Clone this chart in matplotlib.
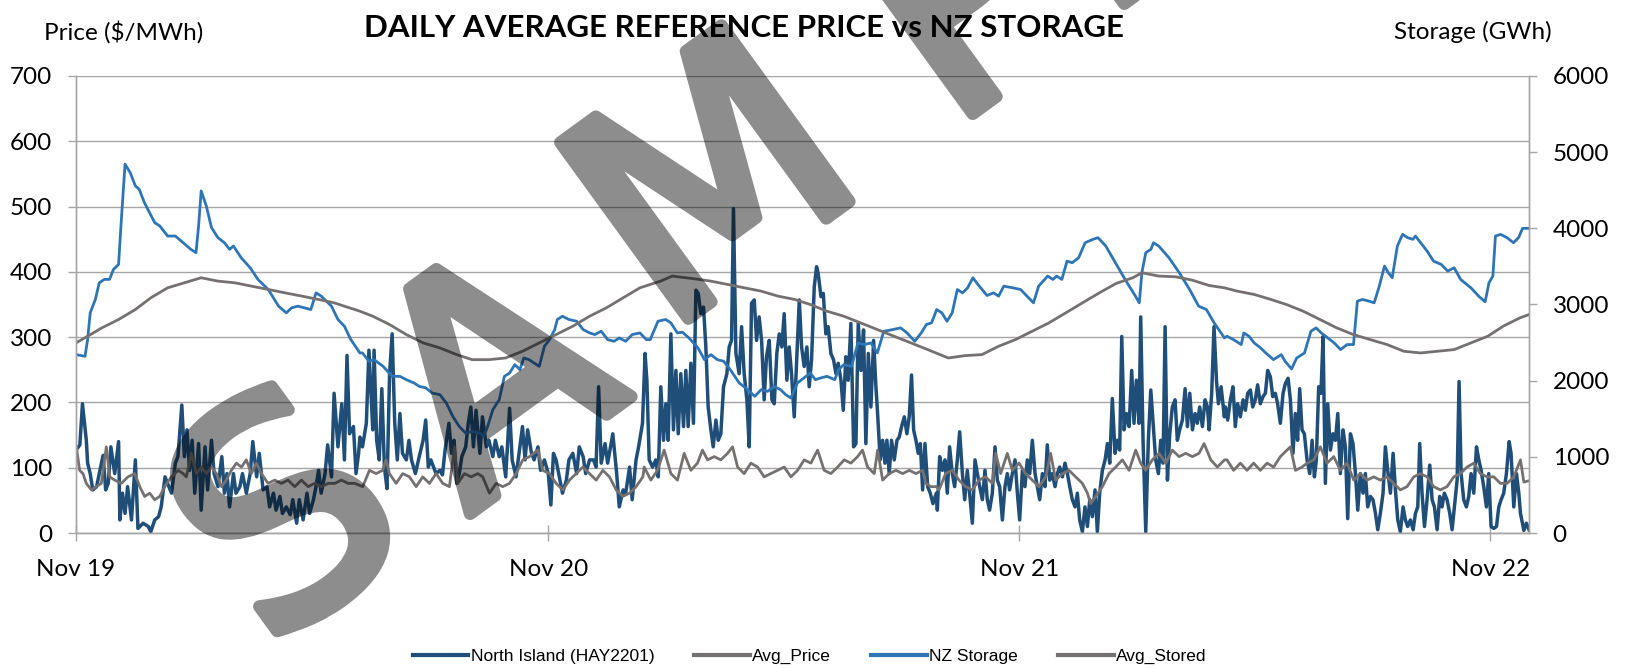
import numpy as np
import pandas as pd
import matplotlib
matplotlib.use('Agg')
import matplotlib.pyplot as plt
import matplotlib.dates as mdates
import matplotlib.patheffects as pe
from matplotlib.lines import Line2D

plt.rcParams['font.family'] = ['Lato', 'DejaVu Sans']

start = pd.Timestamp('2019-11-01')

# North Island (HAY2201) daily price, $/MWh -- x is days since 1 Nov 2019
price_day = [0, 3, 5, 8, 9, 11, 13, 16, 18, 21, 23, 25, 27, 30, 33, 34, 36, 38, 40, 43,
             46, 48, 52, 56, 58, 61, 64, 66, 69, 71, 74, 77, 79, 82, 84, 86, 88, 90, 92, 95,
             97, 100, 102, 105, 107, 110, 113, 115, 117, 119, 122, 124, 127, 129, 132, 135, 137, 140, 142, 145,
             148, 150, 153, 155, 158, 160, 163, 166, 168, 171, 173, 176, 179, 181, 184, 186, 188, 190, 193, 195,
             198, 200, 203, 206, 208, 210, 212, 215, 217, 219,
             220, 222, 225, 227, 230, 231, 233, 235, 237, 239, 241, 243, 245, 247, 249, 251, 253, 256, 258, 260,
             263, 266, 269, 271, 273, 275, 279, 282, 284, 286, 289, 291, 293, 295, 297, 299, 302, 304, 306, 308,
             310, 313, 315, 318, 320, 323, 325, 328, 330, 333, 336, 338, 341, 344, 346, 348, 350, 353, 355, 358,
             360, 363, 366, 368, 370, 372, 375, 377, 380, 382, 385, 388, 390, 393, 395, 398, 401, 403, 405, 407,
             410, 412, 416, 419, 421, 424, 426, 429, 431, 434, 436, 439, 441,
             442.4, 444.2, 446.8, 449.3, 451.2, 453.2, 455.3, 457.1, 458.9, 461.0, 463.0, 464.9, 466.7, 468.7,
             470.8, 472.6, 474.4, 476.5, 478.5, 480.4, 482.2, 484.2, 486.3, 488.1, 489.9, 492.0, 493.8, 495.9,
             497.7, 499.7, 501.8, 504.4, 506.2, 508.0, 509.5, 511.4, 513.9, 515.8, 517.8, 519.9, 521.7, 523.5,
             525.6, 527.4, 529.4, 531.3, 533.3, 535.1, 537.2, 539.3, 541.1, 543.1, 545.0, 547.0, 548.8, 550.9,
             552.7, 554.5, 556.6, 558.6, 560.5, 562.3, 564.3, 566.4, 568.2, 570.0, 572.1, 573.9, 575.2, 577.3,
             579.1, 581.1, 582.9, 585.0, 587.1, 588.9, 590.7, 592.8, 594.6, 596.6, 598.4, 600.5, 602.6, 604.4,
             606.2, 608.3, 610.3, 612.1, 614.0, 616.0, 618.1, 619.9, 621.2, 623.2, 625.1, 626.9, 628.4, 630.2,
             632.0, 634.1, 636.2, 638.0, 639.8, 641.9, 643.9, 645.7, 647.5, 649.1, 650.9, 652.7, 654.3, 656.1,
             657.9, 660.0, 662.0, 664.1, 666.7,
             667.5, 669.3, 671.4, 673.4, 675.2, 677.0, 679.1, 680.9, 683.0, 684.8, 686.9, 688.7, 690.7, 692.5,
             694.6, 696.7, 698.5, 700.3, 702.4, 704.4, 706.2, 708.0, 710.1, 712.2, 714.0, 715.8, 717.9, 719.9,
             721.7, 723.5, 725.6, 727.7, 729.5, 731.3, 733.4, 735.4, 737.2, 739.1, 741.1, 743.2, 745.0, 746.8,
             748.9, 750.9, 752.7, 754.6, 756.6, 758.7, 760.5, 762.3, 764.4, 766.4, 768.3, 770.1, 772.1, 774.2,
             776.0, 777.8, 779.9, 781.9, 783.8, 785.6, 787.6, 789.7, 791.5, 793.3, 795.4, 797.5, 799.3, 801.1,
             803.1, 805.2, 807.0, 808.8, 810.4, 812.2, 814.0, 816.1, 818.1, 819.9, 821.7, 823.8, 825.1, 826.9,
             829.0, 831.0, 832.9, 834.7, 836.7, 838.8, 840.6, 842.4, 844.0, 845.8, 847.6, 849.6, 851.7, 853.5,
             855.3, 857.4, 859.5, 861.3, 863.1, 865.2, 867.2, 869.0, 870.8, 872.9, 875.0, 876.8, 878.1, 880.1,
             881.9, 883.8, 885.3, 887.4, 889.9,
             890.7, 892.5, 894.6, 896.6, 898.4, 900.2, 902.3, 904.4, 906.2, 908.0, 910.1, 911.9, 913.9, 915.7,
             917.8, 919.9, 921.7, 923.5, 925.6, 927.4, 929.4, 931.2, 933.3, 935.4, 937.2, 939.3, 941.1, 943.1,
             944.9, 946.7, 948.3, 950.1, 951.9, 954.0, 956.1, 957.9, 959.7, 961.2, 963.0, 964.8, 966.4, 968.2,
             970.0, 972.1, 974.1, 976.0, 977.8, 979.8, 981.9, 983.7, 985.5, 987.6, 989.6, 991.5, 993.3, 995.3,
             997.4, 999.2, 1001.0, 1003.1, 1005.1, 1007.0, 1008.8, 1010.8, 1012.9, 1014.7, 1016.5, 1018.6,
             1020.7, 1022.5, 1024.3, 1026.3, 1028.4, 1030.2, 1032.0, 1034.1, 1036.2, 1038.0, 1039.8, 1041.3,
             1043.1, 1045.0, 1047.0, 1049.1, 1050.9, 1052.7, 1054.8, 1056.8, 1058.6, 1060.4, 1062.5, 1064.6,
             1066.4, 1068.2, 1070.3, 1071.8, 1073.4, 1075.4, 1077.5, 1079.3, 1081.1, 1083.2, 1085.3, 1087.1,
             1088.9, 1090.9, 1093.0, 1094.8, 1096.6, 1098.7, 1100.8, 1102.6, 1104.4, 1106.4, 1108.5, 1110.6,
             1112.1, 1114.2, 1116.3, 1118.1, 1119.4, 1122, 1124, 1126]
price_val = [127, 135, 198, 142, 107, 91, 66, 71, 91, 119, 66, 76, 132, 91, 140, 20, 61, 30, 71, 20,
             112, 7, 15, 10, 2, 20, 25, 40, 86, 76, 61, 107, 117, 196, 117, 158, 96, 142, 61, 137,
             35, 132, 66, 142, 91, 71, 117, 61, 91, 40, 91, 61, 71, 91, 61, 91, 140, 86, 122, 66,
             71, 40, 61, 35, 56, 30, 40, 28, 51, 15, 51, 20, 61, 30, 51, 71, 96, 61, 91, 135,
             86, 214, 132, 198, 112, 272, 152, 163, 91, 122,
             147, 132, 168, 280, 158, 280, 142, 112, 221, 101, 68, 244, 305, 168, 112, 183, 122, 112, 142, 112,
             91, 117, 142, 173, 101, 112, 91, 96, 89, 127, 168, 122, 142, 76, 91, 117, 132, 168, 193, 132,
             188, 122, 178, 132, 142, 117, 142, 117, 132, 86, 191, 112, 86, 132, 163, 112, 158, 122, 112, 132,
             96, 112, 91, 43, 122, 112, 81, 61, 81, 112, 122, 91, 132, 117, 91, 112, 112, 101, 224, 107,
             137, 107, 152, 91, 40, 66, 61, 101, 51, 112, 132, 168, 275,
             234, 112, 101, 112, 86, 224, 142, 198, 142, 305, 158, 249, 152, 244, 163, 249, 163, 260, 168, 372,
             367, 336, 346, 285, 193, 158, 132, 173, 142, 152, 224, 244, 285, 295, 497, 275, 244, 316, 244, 204,
             132, 352, 357, 295, 331, 295, 204, 270, 295, 204, 198, 275, 305, 285, 336, 234, 285, 244, 178, 270,
             357, 285, 255, 285, 224, 265, 377, 408, 397, 362, 367, 305, 316, 275, 265, 244, 260, 234, 188, 270,
             234, 321, 132, 137, 321, 249, 311, 137, 275, 193, 295, 224, 183, 112, 142, 107, 142, 91, 142, 112,
             142, 147, 163, 178, 152, 178, 242, 158, 142, 122, 137, 66, 137, 71, 61, 45, 61,
             35, 117, 96, 112, 61, 132, 91, 71, 112, 155, 91, 51, 96, 61, 15, 112, 91, 71, 51, 96,
             51, 35, 61, 132, 81, 71, 20, 71, 91, 66, 91, 112, 61, 20, 96, 71, 112, 91, 142, 91,
             71, 51, 91, 71, 135, 81, 91, 71, 91, 101, 86, 107, 91, 71, 51, 40, 61, 20, 2, 40,
             10, 51, 25, 66, 2, 61, 96, 112, 137, 107, 206, 122, 142, 127, 301, 158, 183, 163, 249, 168,
             234, 168, 331, 142, 2, 142, 219, 168, 112, 91, 142, 107, 316, 81, 152, 193, 204, 142, 158, 173,
             221, 163, 214, 158, 183, 168, 193, 163, 204, 193, 158, 214, 316, 234, 198, 224, 178,
             193, 173, 204, 224, 163, 198, 178, 204, 188, 214, 219, 193, 204, 227, 198, 209, 214, 249, 239, 209,
             214, 198, 168, 214, 229, 237, 204, 122, 183, 142, 221, 158, 152, 112, 91, 142, 86, 112, 224, 214,
             301, 76, 198, 127, 152, 142, 183, 91, 158, 132, 22, 152, 137, 91, 35, 91, 61, 91, 40, 56,
             51, 30, 5, 30, 61, 132, 96, 61, 122, 66, 20, 2, 40, 20, 10, 20, 5, 30, 40, 137,
             61, 10, 51, 104, 51, 40, 5, 56, 40, 61, 51, 30, 5, 40, 81, 232, 91, 51, 40, 56,
             91, 61, 132, 112, 96, 71, 40, 91, 10, 7, 10, 40, 51, 61, 91, 140, 122, 40, 91, 61,
             30, 4, 15, 5]

# Avg_Price, $/MWh
avgp_day = [0.3, 2.8, 5.4, 8.0, 11.9, 15.8, 19.6, 23.5, 26.1, 30.0, 35.1, 40.3, 45.5, 49.4, 53.2, 57.1,
            61.0, 64.9, 68.7, 73.9, 79.1, 83.0, 85.5, 89.4, 93.3, 97.2, 101.0, 104.9, 108.8, 112.7, 116.5,
            120.4, 124.3, 128.2, 132.0, 135.9, 139.8, 143.7, 148.8, 154.0, 159.2, 164.3, 169.5, 174.7, 179.9,
            185.0, 190.2, 195.4, 200.5, 205.7, 210.9, 216.0,
            222.2, 227.4, 232.6, 237.7, 240.3, 242.9, 248.1, 253.2, 258.4, 263.6, 268.7, 273.9, 279.1, 284.2,
            289.4, 293.3, 295.9, 301.0, 306.2, 311.4, 315.2, 320.4, 325.6, 330.7, 335.9, 341.1, 346.2, 351.4,
            357.9, 361.7, 366.9, 372.1, 377.3, 382.4, 387.6, 392.8, 397.9, 403.1, 408.3, 413.4, 418.6, 423.8,
            428.9, 434.1, 439.3,
            440.3, 445.5, 450.6, 455.8, 461.0, 466.1, 471.3, 476.5, 481.6, 485.5, 489.4, 494.6, 499.7, 504.9,
            508.8, 512.7, 517.8, 523.0, 528.2, 533.3, 538.5, 543.7, 548.8, 554.0, 559.2, 564.3, 569.5, 574.7,
            579.8, 585.0, 590.2, 595.3, 600.5, 605.7, 609.5, 613.4, 618.6, 621.2, 625.1, 630.2, 635.4, 640.6,
            645.7, 650.9, 656.1, 658.6, 662.5, 666.7,
            668.8, 673.9, 679.1, 684.3, 689.4, 694.6, 699.8, 704.9, 710.1, 712.7, 716.6, 721.7, 725.6, 730.8,
            735.9, 741.1, 746.3, 751.5, 755.3, 759.2, 764.4, 769.5, 774.7, 779.9, 783.8, 786.3, 790.2, 795.4,
            800.5, 805.7, 810.9, 816.1, 821.2, 825.1, 829.0, 834.1, 839.3, 844.5, 849.6, 854.8, 860.0, 865.2,
            870.3, 874.2, 879.4, 884.5, 890.0,
            892.0, 897.1, 902.3, 907.5, 912.6, 917.8, 923.0, 928.1, 933.3, 938.5, 941.1, 945.0, 950.1, 954.0,
            959.2, 964.3, 969.5, 974.7, 979.8, 985.0, 990.2, 995.3, 1000.5, 1005.7, 1010.8, 1016.0, 1021.2,
            1026.3, 1031.5, 1036.7, 1041.8, 1047.0, 1052.2, 1057.3, 1062.5, 1067.7, 1072.8, 1078.0, 1083.2,
            1088.3, 1093.5, 1098.7, 1103.9, 1109.0, 1114.2, 1119.4, 1122, 1126]
avgp_val = [132, 96, 91, 76, 66, 71, 76, 132, 86, 81, 76, 86, 91, 71, 56, 61, 51, 56, 71, 86, 96, 91, 86,
            122, 91, 101, 91, 101, 91, 71, 81, 96, 107, 101, 112, 91, 107, 91, 76, 81, 76, 81, 71, 81, 71,
            76, 71, 76, 76, 81, 76, 76,
            71, 96, 91, 96, 112, 91, 76, 91, 86, 71, 86, 76, 91, 76, 71, 132, 76, 91, 86, 91, 86, 61, 76,
            71, 76, 91, 112, 117, 127, 96, 91, 76, 66, 81, 91, 101, 91, 81, 96, 86, 66, 56, 61, 71, 86,
            101, 81, 96, 127, 91, 81, 122, 96, 107, 127, 112, 117, 112, 122, 132, 101, 91, 107, 101, 86,
            91, 96, 101, 86, 96, 112, 107, 127, 96, 91, 101, 112, 107, 117, 127, 101, 91, 127, 81, 91,
            96, 91, 96, 91, 96, 76, 71, 71,
            66, 91, 96, 81, 71, 66, 81, 86, 76, 122, 91, 122, 96, 107, 91, 81, 71, 86, 122, 81,
            91, 96, 86, 76, 61, 45, 56, 71, 91, 101, 112, 96, 127, 107, 96, 112, 122, 107, 127, 117,
            122, 117, 122, 137, 112, 101, 112,
            112, 96, 107, 96, 107, 96, 107, 101, 117, 127, 132, 96, 101, 107, 112, 132, 107, 117, 96, 107,
            81, 91, 81, 86, 81, 86, 76, 66, 71, 86, 91, 86, 71, 66, 71, 86, 91, 101, 107, 91,
            86, 86, 76, 76, 86, 112, 78, 80]

# NZ Storage, GWh
stor_day = [0, 7, 9, 11, 15, 18, 22, 26, 29, 33, 35, 38, 42, 46, 49, 53, 61, 65, 71, 77,
            83, 89, 93, 95, 97, 101, 105, 110, 115, 119, 122, 128, 135, 141, 149, 157, 163, 167, 172, 177,
            182, 186, 190, 198, 203, 208, 213, 220,
            222, 227, 231, 238, 245, 251, 256, 262, 266, 271, 276, 282, 287, 292, 297, 302, 307, 313, 316, 319,
            323, 328, 332, 336, 340, 344, 347, 351, 357, 359, 363, 367, 371, 373, 377, 382, 388, 393, 398, 402,
            407, 412, 417, 421, 426, 431, 437, 442,
            445, 451, 457, 461, 466, 470, 475, 482, 487, 492, 497, 502, 507, 514, 519, 526, 531, 536, 541, 546,
            550, 554, 559, 564, 569, 573, 577, 582, 588, 591, 595, 601, 606, 611, 616, 621, 626, 633, 639, 644,
            650, 655, 659, 663, 667,
            671, 675, 679, 683, 687, 691, 695, 700, 706, 711, 715, 719, 726, 732, 737, 742, 746, 753, 757, 760,
            764, 768, 772, 777, 782, 788, 792, 798, 804, 813, 821, 824, 826, 829, 833, 835, 839, 847, 855, 863,
            870, 876, 882, 890,
            892, 897, 903, 905, 909, 913, 918, 922, 928, 934, 937, 942, 946, 952, 957, 961, 965, 970, 975, 980,
            985, 990, 993, 997, 1002, 1006, 1010, 1014, 1017, 1020, 1024, 1028, 1032, 1036, 1038, 1042, 1047,
            1052, 1058, 1063, 1068, 1073, 1081, 1087, 1092, 1095, 1098, 1100, 1104, 1109, 1114, 1118, 1121, 1126]
stor_val = [2342, 2320, 2540, 2890, 3066, 3285, 3330, 3330, 3460, 3526, 4075, 4842, 4732, 4557, 4513, 4338,
            4075, 4030, 3899, 3899, 3811, 3724, 3680, 4030, 4491, 4294, 4009, 3877, 3811, 3724, 3768, 3614,
            3482, 3329, 3197, 2978, 2890, 2956, 2978, 2956, 2934, 3153, 3110, 2978, 2803, 2715, 2539, 2364,
            2364, 2254, 2276, 2188, 2057, 2057, 2013, 1969, 1925, 1906, 1837, 1816, 1706, 1531, 1399, 1311,
            1333, 1311, 1268, 1399, 1618, 1750, 2057, 2100, 2210, 2145, 2298, 2276, 2210, 2188, 2452, 2540,
            2671, 2803, 2846, 2803, 2780, 2671, 2627, 2605, 2649, 2539, 2517, 2561, 2517, 2605, 2627, 2539,
            2539, 2780, 2803, 2759, 2627, 2636, 2561, 2430, 2276, 2342, 2276, 2254, 2145, 1969, 1904, 1794,
            1882, 1860, 1925, 1882, 1816, 1772, 1969, 2035, 2100, 2013, 2035, 2057, 2013, 2145, 2210, 2188,
            2496, 2474, 2496, 2364, 2649, 2671, 2693, 2627, 2517, 2627, 2737, 2759, 2934,
            2890, 2780, 2890, 3197, 3153, 3219, 3351, 3241, 3118, 3153, 3110, 3241, 3219, 3197, 3110, 3022,
            3241, 3373, 3329, 3373, 3329, 3570, 3548, 3614, 3811, 3855, 3877, 3768, 3592, 3329, 3110, 3022,
            3417, 3680, 3724, 3811, 3768, 3614, 3417, 3197, 2978, 2934, 2759, 2561,
            2583, 2539, 2474, 2627, 2583, 2496, 2430, 2364, 2276, 2342, 2254, 2154, 2298, 2364, 2649, 2693,
            2627, 2561, 2496, 2408, 2474, 2474, 3044, 3066, 3044, 3022, 3241, 3504, 3417, 3351, 3768, 3921,
            3877, 3855, 3899, 3811, 3702, 3570, 3526, 3439, 3482, 3329, 3219, 3110, 3035, 3285, 3373, 3899,
            3921, 3877, 3811, 3880, 4000, 4000]

# Avg_Stored, GWh
avgs_day = [0, 9, 20, 33, 46, 58, 71, 84, 97, 110, 123, 136, 149, 162, 175, 188, 200, 220, 230, 243,
            256, 269, 282, 295, 307, 320, 333, 346, 359, 372, 385, 398, 411, 424, 437, 453, 462, 479, 492, 505,
            518, 531, 544, 557, 569, 582, 595, 608, 621, 634, 647, 660, 676, 689, 702, 715, 728, 741, 754, 767,
            780, 793, 806, 819, 826, 839, 852, 865, 878, 890, 900, 913, 926, 938, 951, 964, 977, 990, 1003,
            1016, 1029, 1042, 1055, 1068, 1081, 1094, 1106, 1119, 1126]
avgs_val = [2496, 2583, 2693, 2803, 2934, 3088, 3219, 3285, 3351, 3307, 3285, 3241, 3197, 3153, 3110, 3066,
            3022, 2912, 2846, 2737, 2605, 2496, 2430, 2342, 2276, 2276, 2298, 2386, 2496, 2605, 2715, 2846,
            2956, 3088, 3219, 3307, 3373, 3338, 3307, 3263, 3219, 3175, 3110, 3066, 3000, 2912, 2846, 2759,
            2671, 2583, 2496, 2408, 2298, 2329, 2342, 2452, 2539, 2649, 2759, 2890, 3022, 3153, 3276, 3351,
            3417, 3373, 3364, 3320, 3250, 3219, 3175, 3132, 3066, 3000, 2912, 2803, 2693, 2605, 2539, 2474,
            2386, 2364, 2386, 2408, 2496, 2583, 2715, 2825, 2868]

tick_dates = ['2019-11-01', '2020-11-01', '2021-11-01', '2022-11-01']


def to_dates(days):
    return start + pd.to_timedelta(np.asarray(days, dtype=float), unit='D')


grid_c = '#a6a6a6'
c_price = '#1f4e79'
c_stor = '#2e75b6'
c_avg = '#767171'

fig = plt.figure(figsize=(16.29, 6.68), dpi=100)
ax = fig.add_axes([76 / 1629, 135 / 668, 1453 / 1629, 457 / 668])
ax2 = ax.twinx()

ax.plot(to_dates(price_day), price_val, color=c_price, lw=2.5, solid_joinstyle='round')
ax.plot(to_dates(avgp_day), avgp_val, color=c_avg, lw=2.0)
ax2.plot(to_dates(stor_day), stor_val, color=c_stor, lw=2.0)
ax2.plot(to_dates(avgs_day), avgs_val, color=c_avg, lw=2.0)

ax.set_ylim(0, 700)
ax.set_yticks(range(0, 701, 100))
ax2.set_ylim(0, 6000)
ax2.set_yticks(range(0, 6001, 1000))
ax.set_xlim(pd.Timestamp('2019-11-01'), pd.Timestamp('2022-12-01'))
ax.set_xticks(pd.to_datetime(tick_dates))
ax.xaxis.set_major_formatter(mdates.DateFormatter('%b %y'))

ax.grid(axis='y', color=grid_c, lw=1.0)
ax.set_axisbelow(True)
for a in (ax, ax2):
    for s in a.spines.values():
        s.set_color(grid_c)
        s.set_linewidth(1.0)
    a.spines['top'].set_visible(False)
ax.tick_params(axis='y', direction='out', length=6, width=1.0, color=grid_c, pad=11, labelsize=17.5)
ax2.tick_params(axis='y', direction='out', length=6, width=1.0, color=grid_c, pad=11, labelsize=17.5)
ax.tick_params(axis='x', direction='inout', length=11, width=1.0, color=grid_c, pad=13, labelsize=17.5)

fig.text(0.457, 1 - 28 / 668, 'DAILY AVERAGE REFERENCE PRICE vs NZ STORAGE', ha='center', va='center',
         fontsize=22.5, fontweight='bold')
fig.text(44 / 1629, 1 - 32 / 668, 'Price ($/MWh)', ha='left', va='center', fontsize=17.5)
fig.text(1552 / 1629, 1 - 32 / 668, 'Storage (GWh)', ha='right', va='center', fontsize=17.5)

handles = [Line2D([], [], color=c_price, lw=3), Line2D([], [], color=c_avg, lw=3),
           Line2D([], [], color=c_stor, lw=3), Line2D([], [], color=c_avg, lw=3)]
labels = ['North Island (HAY2201)', 'Avg_Price', 'NZ Storage', 'Avg_Stored']
fig.legend(handles, labels, loc='center', bbox_to_anchor=(0.497, 0.017), ncol=4, frameon=False,
           prop=dict(family=['Liberation Sans Narrow', 'Liberation Sans'], size=12.5),
           handlelength=3.2, handletextpad=0.15, columnspacing=2.3)


def wm_filter(im, dpi):
    # flatten stroke + fill, then make the watermark uniformly translucent
    out = np.zeros_like(im)
    out[..., 3] = im[..., 3] * 0.45
    return out, 0, 0


# "SAMPLE" watermark, one letter at a time (figure pixel positions, top-left origin)
wm_letters = ['S', 'A', 'M', 'P', 'L', 'E']
wm_xy = [(294, 528), (502, 388), (720, 193), (973, 11), (1119, -95), (1269, -204)]
for ch, (px, py) in zip(wm_letters, wm_xy):
    t = fig.text(px / 1629, 1 - py / 668, ch, rotation=36, rotation_mode='anchor', ha='center',
                 va='center', fontsize=215, color='black', family='DejaVu Sans', zorder=50,
                 path_effects=[pe.Stroke(linewidth=9, foreground='black', joinstyle='round',
                                         capstyle='round'), pe.Normal()])
    t.set_agg_filter(wm_filter)

fig.savefig('out.png', dpi=100)
